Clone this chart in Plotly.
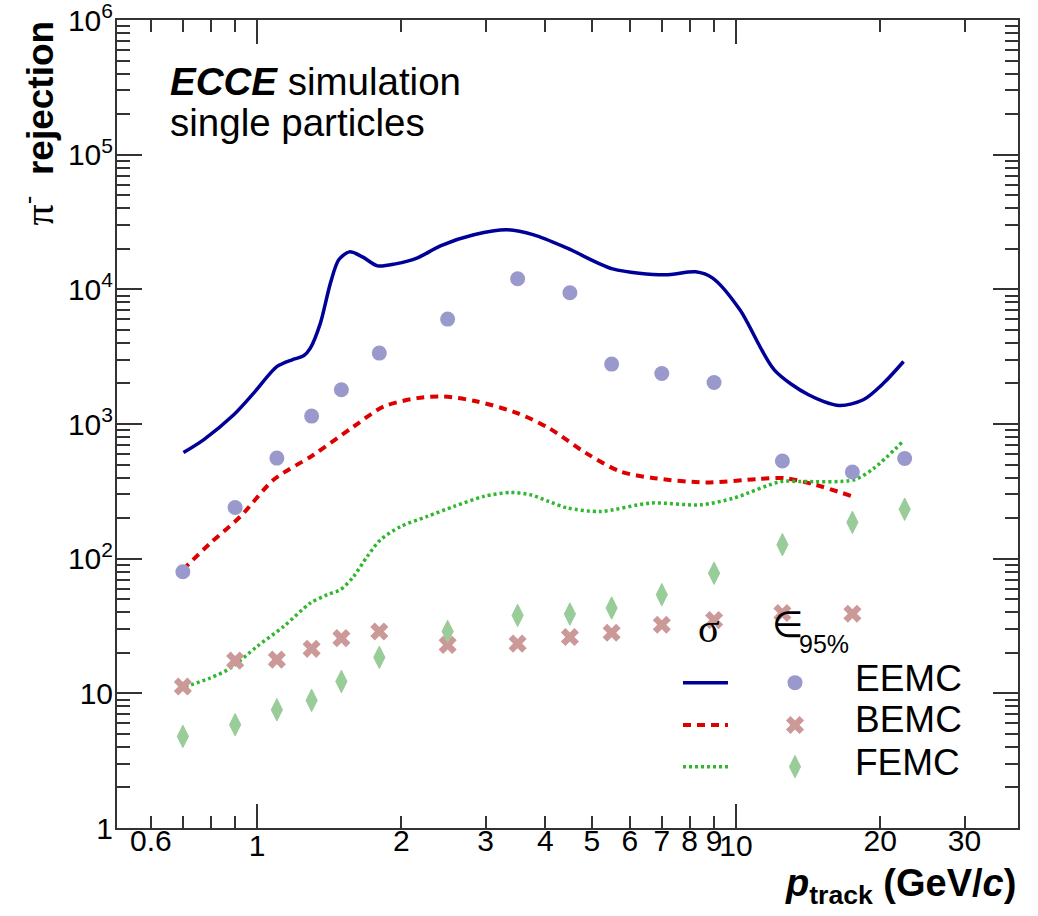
import math
import plotly.graph_objects as go

# ---------------- data ----------------
p_bins = [0.7, 0.9, 1.1, 1.3, 1.5, 1.8, 2.5, 3.5, 4.5, 5.5, 7, 9, 12.5, 17.5, 22.5]
eemc_eff95 = [80, 240, 558, 1145, 1795, 3360, 6010, 11970, 9430, 2785, 2370, 2033, 531, 440, 555]
bemc_p = [0.7, 0.9, 1.1, 1.3, 1.5, 1.8, 2.5, 3.5, 4.5, 5.5, 7, 9, 12.5, 17.5]
bemc_eff95 = [11.25, 17.5, 17.8, 21.4, 25.7, 28.8, 22.9, 23.4, 26.2, 28.2, 32.3, 35.0, 39.5, 39.0]
femc_eff95 = [4.79, 5.85, 7.55, 8.86, 12.25, 18.5, 28.8, 37.9, 38.8, 43, 54, 78, 127, 186, 233]

eemc_sigma_p = [0.702, 0.773, 0.894, 0.984, 1.101, 1.183, 1.251, 1.292, 1.356, 1.423, 1.481, 1.559,
                1.660, 1.784, 1.945, 2.163, 2.415, 2.836, 3.330, 3.784, 4.443, 5.526, 7.097, 8.237,
                8.94, 10.19, 12.02, 14.17, 16.43, 18.44, 20.34, 22.38]
eemc_sigma = [614, 763, 1170, 1695, 2675, 2998, 3210, 3660, 5610, 11120, 16560, 18970,
              17420, 14930, 15450, 17130, 21040, 25400, 27670, 25400, 20230, 14190, 12820, 13490,
              12110, 7050, 2525, 1648, 1372, 1513, 2013, 2910]

bemc_sigma_p = [0.70, 0.799, 0.923, 1.083, 1.313, 1.591, 1.839, 2.160, 2.454, 2.883, 3.494, 4.068,
                4.864, 5.734, 6.755, 8.65, 11.07, 12.63, 14.64, 17.37]
bemc_sigma = [82.7, 130.6, 205.6, 385, 591, 958, 1348, 1557, 1600, 1469, 1205, 933,
              608, 444, 396, 368, 390, 396, 354, 293]

femc_sigma_p = [0.708, 0.799, 0.880, 1.0, 1.137, 1.292, 1.401, 1.493, 1.591, 1.698, 1.810, 1.992,
                2.266, 2.575, 2.975, 3.382, 3.724, 4.068, 4.443, 5.216, 6.634, 8.44, 9.90, 12.40,
                13.65, 17.64, 19.43, 22.38]
femc_sigma = [11.2, 13.0, 15.4, 22.3, 31.4, 46.8, 54.0, 58.8, 73.8, 103.8, 138, 173,
              206, 244, 290, 310, 298, 266, 238, 224, 259, 251, 282, 374,
              374, 385, 471, 750]

x_major_vals = [1, 10]
x_major_text = ["1", "10"]
x_label_vals = [0.6, 2, 3, 4, 5, 6, 7, 8, 9, 20, 30]
x_label_text = ["0.6", "2", "3", "4", "5", "6", "7", "8", "9", "20", "30"]
x_minor_vals = [0.6, 0.7, 0.8, 0.9, 2, 3, 4, 5, 6, 7, 8, 9, 20, 30]
y_tick_vals = [1, 10, 100, 1000, 10000, 100000, 1000000]
y_tick_text = ["1", "10", "10<sup>2</sup>", "10<sup>3</sup>", "10<sup>4</sup>", "10<sup>5</sup>", "10<sup>6</sup>"]
y_minor_vals = [m * 10 ** e for e in range(0, 6) for m in range(2, 10)]

names = ["EEMC", "BEMC", "FEMC"]

# ---------------- styles ----------------
BLUE = "#000099"
RED = "#dd0000"
GREEN = "#2fb82f"
C_EEMC = "#9999cc"
C_BEMC = "#cc9999"
C_FEMC = "#99cc99"
AXC = "#333333"
FONT = "Liberation Sans"

fig = go.Figure()

# curves (sigma)
fig.add_trace(go.Scatter(x=eemc_sigma_p, y=eemc_sigma, mode="lines",
                         line=dict(color=BLUE, width=3.5, shape="spline", smoothing=0.8)))
fig.add_trace(go.Scatter(x=bemc_sigma_p, y=bemc_sigma, mode="lines",
                         line=dict(color=RED, width=4, dash="8px,6px", shape="spline", smoothing=0.8)))
fig.add_trace(go.Scatter(x=femc_sigma_p, y=femc_sigma, mode="lines",
                         line=dict(color=GREEN, width=3.5, dash="3px,3px", shape="spline", smoothing=0.8)))

# markers (eff 95%)
fig.add_trace(go.Scatter(x=p_bins, y=eemc_eff95, mode="markers",
                         marker=dict(symbol="circle", size=15, color=C_EEMC, line=dict(width=0))))
fig.add_trace(go.Scatter(x=bemc_p, y=bemc_eff95, mode="markers",
                         marker=dict(symbol="x", size=16, color=C_BEMC, line=dict(width=0))))
fig.add_trace(go.Scatter(x=p_bins, y=femc_eff95, mode="markers",
                         marker=dict(symbol="diamond-tall", size=16, color=C_FEMC,
                                     line=dict(width=1, color=C_FEMC))))

# dummy trace so that the label-only overlay axis is drawn
fig.add_trace(go.Scatter(x=[], y=[], xaxis="x2", yaxis="y", mode="markers", showlegend=False))

# legend markers on a hidden overlay axis [0,1]x[0,1]
leg_y = [0.1799, 0.1275, 0.0759]
leg_mx = 0.7525
fig.add_trace(go.Scatter(x=[leg_mx], y=[leg_y[0]], xaxis="x3", yaxis="y3", mode="markers",
                         marker=dict(symbol="circle", size=15, color=C_EEMC, line=dict(width=0))))
fig.add_trace(go.Scatter(x=[leg_mx], y=[leg_y[1]], xaxis="x3", yaxis="y3", mode="markers",
                         marker=dict(symbol="x", size=16, color=C_BEMC, line=dict(width=0))))
fig.add_trace(go.Scatter(x=[leg_mx], y=[leg_y[2]], xaxis="x3", yaxis="y3", mode="markers",
                         marker=dict(symbol="diamond-tall", size=16, color=C_FEMC,
                                     line=dict(width=1, color=C_FEMC))))

xr = [math.log10(0.51), math.log10(38.8)]

fig.update_layout(
    width=1038, height=916,
    margin=dict(l=117, r=20, t=20, b=88, autoexpand=False),
    paper_bgcolor="white", plot_bgcolor="white",
    showlegend=False,
    font=dict(family=FONT, color="black"),
    xaxis=dict(type="log", range=xr, tickmode="array", tickvals=x_major_vals, ticktext=x_major_text,
               ticks="inside", ticklen=24, tickwidth=2, tickcolor=AXC, automargin=False,
               showline=True, linecolor=AXC, linewidth=2, mirror="ticks",
               showgrid=False, zeroline=False, tickangle=0, ticklabelstandoff=-10,
               tickfont=dict(size=30, family=FONT, color="black"),
               minor=dict(tickmode="array", tickvals=x_minor_vals, ticks="inside", ticklen=12,
                          tickwidth=2, tickcolor=AXC, showgrid=False)),
    xaxis2=dict(type="log", range=xr, overlaying="x", anchor="y", side="bottom", automargin=False,
                tickmode="array", tickvals=x_label_vals, ticktext=x_label_text,
                ticks="", showline=False, showgrid=False, zeroline=False, tickangle=0,
                ticklabelstandoff=-8,
                tickfont=dict(size=30, family=FONT, color="black")),
    yaxis=dict(type="log", range=[0, 6], tickmode="array", tickvals=y_tick_vals, ticktext=y_tick_text,
               ticks="inside", ticklen=25, tickwidth=2, tickcolor=AXC, automargin=False,
               showline=True, linecolor=AXC, linewidth=2, mirror="ticks",
               showgrid=False, zeroline=False, ticklabeloverflow="allow", ticklabelstandoff=-4,
               tickfont=dict(size=30, family=FONT, color="black"),
               minor=dict(tickmode="array", tickvals=y_minor_vals, ticks="inside", ticklen=13,
                          tickwidth=2, tickcolor=AXC, showgrid=False)),
    xaxis3=dict(overlaying="x", anchor="y3", range=[0, 1], visible=False, automargin=False),
    yaxis3=dict(overlaying="y", anchor="x3", range=[0, 1], visible=False, automargin=False),
)

# legend line samples
lx0, lx1 = 0.6282, 0.6781
fig.add_shape(type="line", xref="paper", yref="paper", x0=lx0, x1=lx1, y0=leg_y[0], y1=leg_y[0],
              line=dict(color=BLUE, width=3.5))
fig.add_shape(type="line", xref="paper", yref="paper", x0=lx0, x1=lx1, y0=leg_y[1], y1=leg_y[1],
              line=dict(color=RED, width=4, dash="8px,6px"))
fig.add_shape(type="line", xref="paper", yref="paper", x0=lx0, x1=lx1, y0=leg_y[2], y1=leg_y[2],
              line=dict(color=GREEN, width=3.5, dash="3px,3px"))

ann = []
for name, yy in zip(names, [0.185, 0.134, 0.081]):
    ann.append(dict(text=name, x=0.8169, y=yy, xref="paper", yref="paper", xanchor="left",
                    yanchor="middle", showarrow=False, font=dict(size=37, family=FONT)))
ann.append(dict(text="σ", x=0.6565, y=0.2475, xref="paper", yref="paper", xanchor="center",
                yanchor="middle", showarrow=False, font=dict(size=40, family="Liberation Serif")))
ann.append(dict(text="∈", x=0.7447, y=0.2515, xref="paper", yref="paper", xanchor="center",
                yanchor="middle", showarrow=False, font=dict(size=36, family="DejaVu Sans")))
ann.append(dict(text="95%", x=0.7547, y=0.2277, xref="paper", yref="paper", xanchor="left",
                yanchor="middle", showarrow=False, font=dict(size=25, family=FONT)))
ann.append(dict(text="<b><i>ECCE</i></b> simulation", x=0.0566, y=0.9235, xref="paper", yref="paper",
                xanchor="left", yanchor="middle", showarrow=False, font=dict(size=38.5, family=FONT)))
ann.append(dict(text="single particles", x=0.0566, y=0.8728, xref="paper", yref="paper",
                xanchor="left", yanchor="middle", showarrow=False, font=dict(size=38.5, family=FONT)))
ann.append(dict(text="<span style='font-family:Liberation Serif;font-size:42px'>π</span><sup>-</sup>  <b>rejection</b>",
                x=-0.0866, y=1.0025, xref="paper", yref="paper",
                xanchor="center", yanchor="top", textangle=-90, showarrow=False,
                font=dict(size=37, family=FONT)))
ann.append(dict(text="<b><i>p</i></b><sub><b>track</b></sub><b> (GeV/<i>c</i>)</b>", x=1.0, y=-0.0396,
                xref="paper", yref="paper", xanchor="right", yanchor="top", showarrow=False,
                font=dict(size=38, family=FONT)))
fig.update_layout(annotations=ann)

fig.write_html("out.html")
